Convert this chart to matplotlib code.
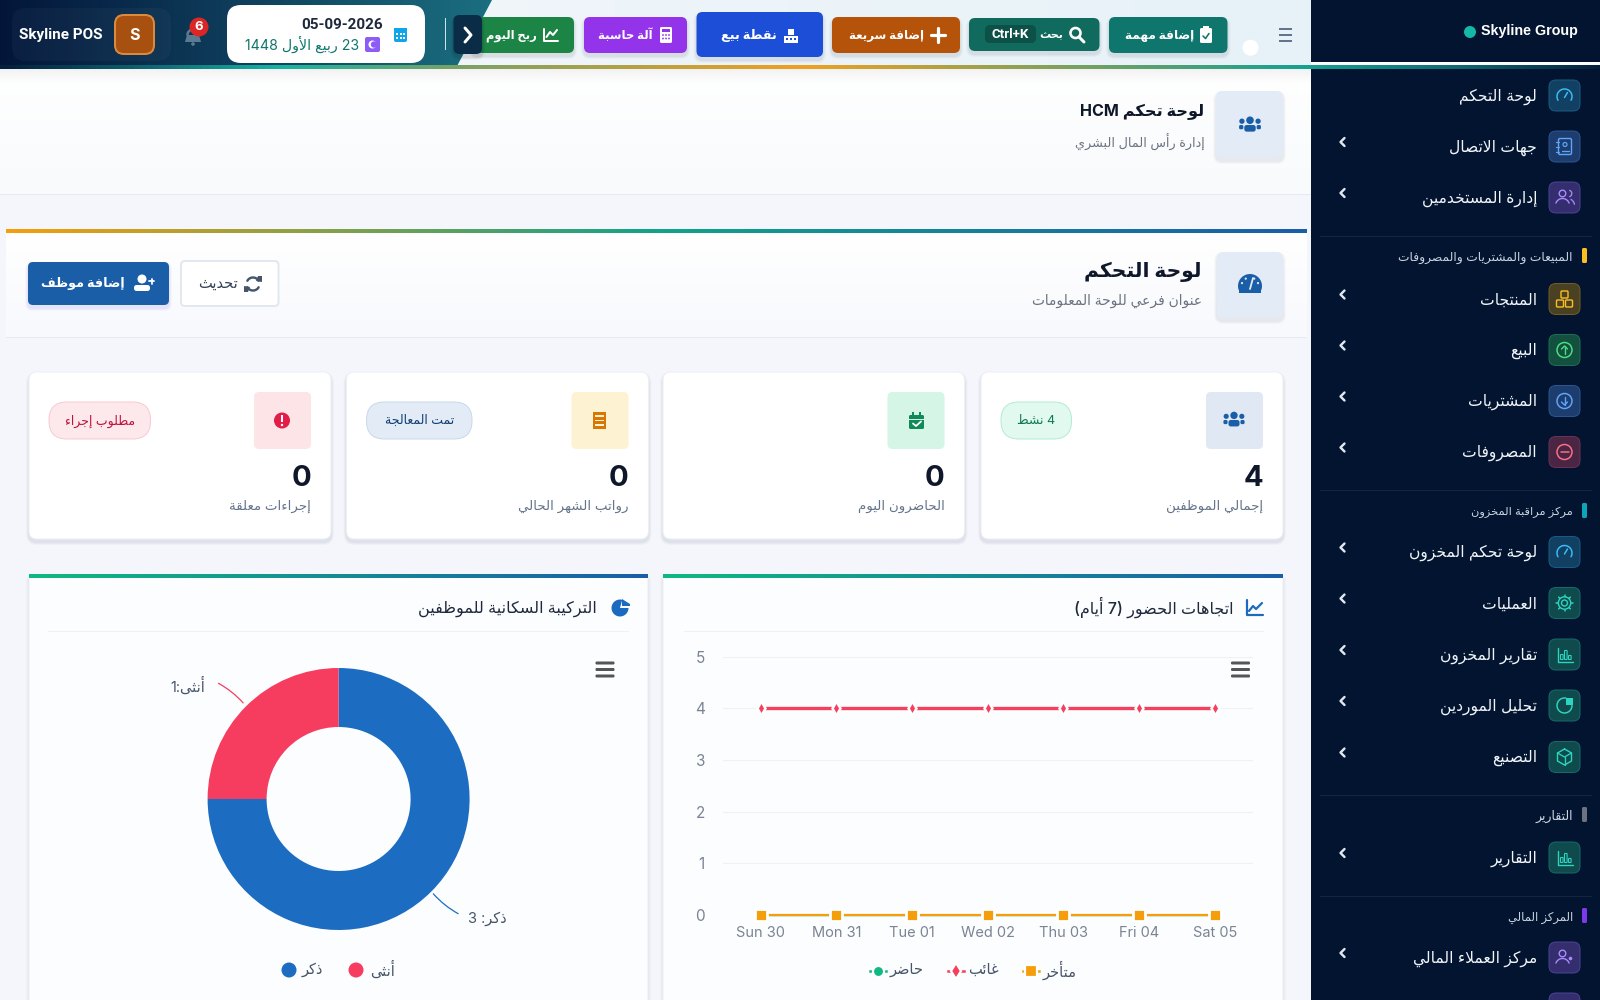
import re
import numpy as np
import matplotlib
matplotlib.use('Agg')
import matplotlib.pyplot as plt
from matplotlib.colors import LinearSegmentedColormap
from matplotlib.patches import Circle, FancyBboxPatch, Polygon, Rectangle

plt.rcParams['font.family'] = ['Inter', 'DejaVu Sans']

# chart data
days = ['Sun 30', 'Mon 31', 'Tue 01', 'Wed 02', 'Thu 03', 'Fri 04', 'Sat 05']
present = [0, 0, 0, 0, 0, 0, 0]
absent = [4, 4, 4, 4, 4, 4, 4]
late = [0, 0, 0, 0, 0, 0, 0]
y_ticks = [0, 1, 2, 3, 4, 5]
gender_values = [3, 1]

# kpi cards, right to left
kpi_values = ['4', '0', '0', '0']
kpi_titles = ['إجمالي الموظفين', 'الحاضرون اليوم', 'رواتب الشهر الحالي', 'إجراءات معلقة']
kpi_badges = ['4 نشط', None, 'تمت المعالجة', 'مطلوب إجراء']

# sidebar rows
side_labels = ['لوحة التحكم', 'جهات الاتصال', 'إدارة المستخدمين', 'المنتجات', 'البيع', 'المشتريات', 'المصروفات',
               'لوحة تحكم المخزون', 'العمليات', 'تقارير المخزون', 'تحليل الموردين', 'التصنيع', 'التقارير',
               'مركز العملاء المالي']
side_sections = ['المبيعات والمشتريات والمصروفات', 'مركز مراقبة المخزون', 'التقارير', 'المركز المالي']

# arabic has to be shaped by hand, matplotlib only lays out left to right
_letters = [('ء', 0xFE80, 1), ('آ', 0xFE81, 2), ('أ', 0xFE83, 2), ('ؤ', 0xFE85, 2), ('إ', 0xFE87, 2), ('ئ', 0xFE89, 4),
            ('ا', 0xFE8D, 2), ('ب', 0xFE8F, 4), ('ة', 0xFE93, 2), ('ت', 0xFE95, 4), ('ث', 0xFE99, 4), ('ج', 0xFE9D, 4),
            ('ح', 0xFEA1, 4), ('خ', 0xFEA5, 4), ('د', 0xFEA9, 2), ('ذ', 0xFEAB, 2), ('ر', 0xFEAD, 2), ('ز', 0xFEAF, 2),
            ('س', 0xFEB1, 4), ('ش', 0xFEB5, 4), ('ص', 0xFEB9, 4), ('ض', 0xFEBD, 4), ('ط', 0xFEC1, 4), ('ظ', 0xFEC5, 4),
            ('ع', 0xFEC9, 4), ('غ', 0xFECD, 4), ('ف', 0xFED1, 4), ('ق', 0xFED5, 4), ('ك', 0xFED9, 4), ('ل', 0xFEDD, 4),
            ('م', 0xFEE1, 4), ('ن', 0xFEE5, 4), ('ه', 0xFEE9, 4), ('و', 0xFEED, 2), ('ى', 0xFEEF, 2), ('ي', 0xFEF1, 4)]
FORMS = {c: (b, n) for c, b, n in _letters}
LAM_ALEF = {'آ': 0xFEF5, 'أ': 0xFEF7, 'إ': 0xFEF9, 'ا': 0xFEFB}
MIRROR = str.maketrans('()', ')(')


def ar(s):
    out = []
    i = 0
    prev = False
    while i < len(s):
        c = s[i]
        nxt = s[i + 1] if i + 1 < len(s) else ''
        if c not in FORMS:
            out.append(c)
            prev = False
        elif c == 'ل' and nxt in LAM_ALEF:
            out.append(chr(LAM_ALEF[nxt] + (1 if prev else 0)))
            prev = False
            i += 1
        else:
            base, n = FORMS[c]
            after = n == 4 and nxt in FORMS and FORMS[nxt][1] > 1
            if n == 1:
                off = 0
            elif prev and after:
                off = 3
            elif after:
                off = 2
            elif prev:
                off = 1
            else:
                off = 0
            out.append(chr(base + off))
            prev = n == 4
        i += 1
    runs = re.split(r'([0-9A-Za-z+\-]+)', ''.join(out))
    runs = [r if k % 2 else r[::-1].translate(MIRROR) for k, r in enumerate(runs)]
    return ''.join(reversed(runs))


fig = plt.figure(figsize=(16, 10), dpi=100)
ax = fig.add_axes([0, 0, 1, 1])
ax.set_xlim(0, 1600)
ax.set_ylim(1000, 0)
ax.set_autoscale_on(False)
ax.axis('off')
fig.patch.set_facecolor('#f4f6fb')


def rbox(x0, y0, x1, y1, r, fc, ec='none', lw=0, z=3, shadow=None):
    if shadow:
        for grow, a in [(3, 0.03), (2, 0.04), (1, 0.05)]:
            ax.add_patch(FancyBboxPatch((x0 - grow, y0 - grow + 3), x1 - x0 + 2 * grow, y1 - y0 + 2 * grow,
                                        boxstyle='round,pad=0,rounding_size=%g' % (r + grow),
                                        fc=shadow, ec='none', alpha=a, zorder=z))
    p = FancyBboxPatch((x0, y0), x1 - x0, y1 - y0, boxstyle='round,pad=0,rounding_size=%g' % r,
                       fc=fc, ec=ec, lw=lw * 0.72, zorder=z)
    ax.add_patch(p)
    return p


def grad(x0, y0, x1, y1, stops, vertical=False, z=1, clip=None):
    cmap = LinearSegmentedColormap.from_list('g', stops)
    arr = np.linspace(0, 1, 256).reshape(-1, 1) if vertical else np.linspace(0, 1, 256).reshape(1, -1)
    im = ax.imshow(arr, extent=(x0, x1, y1, y0), cmap=cmap, vmin=0, vmax=1, aspect='auto', zorder=z,
                   interpolation='bilinear')
    if clip is not None:
        im.set_clip_path(clip)
    return im


def txt(x, y, s, size, c='#0f172a', ha='right', w='normal', z=8, family=None):
    t = ax.text(x, y, s, fontsize=size, color=c, ha=ha, va='center', fontweight=w, zorder=z)
    if family:
        t.set_family(family)
    return t


def line(xs, ys, c, lw=1.5, z=7):
    ax.plot(xs, ys, color=c, lw=lw * 0.72, solid_capstyle='round', solid_joinstyle='round', zorder=z)


def arc(cx, cy, r, a0, a1, c, lw=1.5, z=7):
    t = np.radians(np.linspace(a0, a1, 40))
    line(cx + r * np.cos(t), cy - r * np.sin(t), c, lw, z)


def dot(cx, cy, r, fc, z=7, ec='none', lw=0):
    ax.add_patch(Circle((cx, cy), r, fc=fc, ec=ec, lw=lw * 0.72, zorder=z))


def rect(x0, y0, x1, y1, fc, z=7):
    ax.add_patch(Rectangle((x0, y0), x1 - x0, y1 - y0, fc=fc, ec='none', zorder=z))


def poly(pts, fc, z=7):
    ax.add_patch(Polygon(pts, closed=True, fc=fc, ec='none', zorder=z))


def users_fill(x, y, c, z=7, k=1.0):
    dot(x, y - 5 * k, 4 * k, c, z)
    dot(x - 8.5 * k, y - 4 * k, 2.8 * k, c, z)
    dot(x + 8.5 * k, y - 4 * k, 2.8 * k, c, z)
    rbox(x - 6 * k, y, x + 6 * k, y + 7 * k, 2.5 * k, c, z=z)
    rbox(x - 11.5 * k, y, x - 7 * k, y + 4.5 * k, 1.5 * k, c, z=z)
    rbox(x + 7 * k, y, x + 11.5 * k, y + 4.5 * k, 1.5 * k, c, z=z)


def gauge_fill(x, y, c, bg, z=7):
    t = np.radians(np.linspace(-20, 200, 50))
    poly(np.c_[x + 12 * np.cos(t), y + 2 - 12 * np.sin(t)], c, z)
    rect(x - 11, y + 4, x + 11, y + 9, c, z)
    for a in (160, 120, 60, 20):
        dot(x + 8.5 * np.cos(np.radians(a)), y + 2 - 8.5 * np.sin(np.radians(a)), 1.1, bg, z + 1)
    line([x, x + 3], [y + 5, y - 6], bg, 1.8, z + 1)


def side_icon(kind, x, y, c):
    z = 7
    if kind == 'gauge':
        arc(x, y + 1, 7.5, -30, 210, c, 1.5)
        line([x, x + 3], [y + 2, y - 3], c, 1.5)
    elif kind == 'book':
        rbox(x - 6, y - 8, x + 7, y + 8, 1.5, 'none', c, 1.4, z)
        dot(x + 0.5, y - 2, 2, 'none', z, c, 1.2)
        line([x - 3, x + 4], [y + 4, y + 4], c, 1.3)
        for d in (-5, 0, 5):
            line([x - 8.5, x - 6], [y + d, y + d], c, 1.2)
    elif kind == 'users':
        dot(x - 2, y - 4, 3.3, 'none', z, c, 1.4)
        arc(x - 2, y + 8, 7, 20, 160, c, 1.4)
        arc(x + 4, y - 4, 3.3, -70, 70, c, 1.3)
        arc(x + 3, y + 8, 7, 10, 60, c, 1.3)
    elif kind == 'boxes':
        rbox(x - 3.5, y - 8, x + 3.5, y - 1, 1, 'none', c, 1.4, z)
        rbox(x - 8, y + 1, x - 1, y + 8, 1, 'none', c, 1.4, z)
        rbox(x + 1, y + 1, x + 8, y + 8, 1, 'none', c, 1.4, z)
    elif kind in ('up', 'down', 'minus'):
        dot(x, y, 7.5, 'none', z, c, 1.5)
        if kind == 'minus':
            line([x - 4, x + 4], [y, y], c, 1.5)
        else:
            s = -1 if kind == 'up' else 1
            line([x, x], [y - 4, y + 4], c, 1.4)
            line([x - 3, x, x + 3], [y + s, y + 4 * s, y + s], c, 1.4)
    elif kind == 'gear':
        dot(x, y, 3, 'none', z, c, 1.4)
        dot(x, y, 6.2, 'none', z, c, 1.4)
        for a in np.radians(np.arange(0, 360, 45)):
            line([x + 6.5 * np.cos(a), x + 8.3 * np.cos(a)], [y + 6.5 * np.sin(a), y + 8.3 * np.sin(a)], c, 1.5)
    elif kind == 'bars':
        line([x - 7, x - 7, x + 8], [y - 7, y + 7, y + 7], c, 1.4)
        for dx, h in ((-4, 5), (0, 9), (4, 4)):
            rbox(x + dx, y + 5 - h, x + dx + 2.6, y + 5, 0.5, 'none', c, 1.1, z)
    elif kind == 'pie':
        arc(x, y, 7.5, 80, 360, c, 1.5)
        poly([(x + 1, y - 8), (x + 8, y - 8), (x + 8, y - 1), (x + 1, y - 1)], c, z)
    elif kind == 'cube':
        hexa = [(x, y - 8), (x + 7, y - 4), (x + 7, y + 4), (x, y + 8), (x - 7, y + 4), (x - 7, y - 4), (x, y - 8)]
        line([p[0] for p in hexa], [p[1] for p in hexa], c, 1.4)
        line([x - 7, x, x + 7], [y - 4, y, y - 4], c, 1.3)
        line([x, x], [y, y + 8], c, 1.3)
    elif kind == 'userm':
        dot(x - 2, y - 4, 3.3, 'none', z, c, 1.4)
        arc(x - 2, y + 8, 7, 20, 160, c, 1.4)
        dot(x + 6, y + 1, 1.8, c, z)


# ---- page background
grad(0, 69, 1311, 194, ['#ffffff', '#f8fafc'], vertical=True, z=1)
rect(0, 193.5, 1311, 194.5, '#e6e9ef', 2)
grad(0, 69, 1311, 84, [(0, 0, 0, 0.05), (0, 0, 0, 0)], vertical=True, z=2)

# ---- top bar
grad(0, 0, 1311, 65, ['#f5f7fb', '#e6f2f8'], z=1)
head = Polygon([(0, 0), (492, 0), (456, 68), (0, 68)], closed=True, fc='none', ec='none', transform=ax.transData)
ax.add_patch(head)
grad(0, 0, 492, 68, ['#03163a', '#0f3f5c', '#1a6f80'], z=2, clip=head)
stripe_stops = [(0, '#04203c'), (0.1, '#0f6f78'), (0.17, '#17b3a3'), (0.28, '#76a267'), (0.5, '#f0a020'),
                (0.82, '#14a093'), (0.92, '#0f5a68'), (1, '#04203c')]
grad(0, 65, 1600, 69, stripe_stops, z=4)

rbox(12, 8, 171, 61, 14, '#ffffff08', z=3)
txt(19, 35, 'Skyline POS', 11, 'white', 'left', 'semibold', family=['Roboto', 'DejaVu Sans'])
rbox(115, 15, 154, 54, 9, '#a8500f', '#dc8a3e', 2, 4)
txt(134.5, 35, 'S', 11.5, 'white', 'center', 'bold')
# bell
arc(193, 35, 5.5, 0, 180, '#5a7a92', 2.5, 5)
poly([(187, 35), (199, 35), (201, 42), (185, 42)], '#5a7a92', 5)
dot(193, 44, 1.8, '#5a7a92', 5)
dot(199, 27, 9.5, '#dc2626', 6)
txt(199, 27, '6', 9.5, 'white', 'center', 'bold')
rbox(227, 5, 425, 63, 14, 'white', z=4)
txt(383, 25, '05-09-2026', 11, '#1e293b', 'right', 'bold', family=['Roboto', 'DejaVu Sans'])
txt(359, 44, ar('23 ربيع الأول 1448'), 10.2, '#0f766e', 'right')
rbox(394, 30, 407, 42, 2, '#0ea5e9', z=5)
rect(394, 28, 407, 31, '#0ea5e9', 5)
for gx in (397, 400.5, 404):
    for gy in (34, 38):
        rect(gx - 1, gy - 1, gx + 1, gy + 1, 'white', 6)
rbox(365, 37, 380, 52, 2, '#8b5cf6', z=5)
dot(372.5, 44.5, 4, 'white', 6)
dot(374, 44.5, 3.2, '#8b5cf6', 7)
rect(444.5, 18, 445.5, 50, '#cfe3ea', 5)

# action buttons
btn_x0 = [472, 584, 696.5, 832, 969, 1109]
btn_x1 = [574, 687, 823, 960, 1099.5, 1227.5]
btn_y0 = [17, 17, 12, 17, 18, 17]
btn_y1 = [53, 53, 57, 53, 51, 53]
btn_col = ['#1c8546', '#9333ea', '#1d4ed8', '#b45309', '#106b5e', '#0f766e']
btn_lab = ['ربح اليوم', 'آلة حاسبة', 'نقطة بيع', 'إضافة سريعة', 'بحث', 'إضافة مهمة']
btn_right = [537, 653, 777, 924, 1063, 1194]
btn_size = [8.3, 8.5, 9.2, 8.6, 8, 8.7]
for i in range(6):
    rbox(btn_x0[i], btn_y0[i], btn_x1[i], btn_y1[i], 6, btn_col[i], z=3, shadow='#334155')
    txt(btn_right[i], 35.5, ar(btn_lab[i]), btn_size[i], 'white', 'right', 'bold')
# chart icon
line([544, 544, 558], [29, 41, 41], 'white', 2)
line([546.5, 550, 553, 557], [37, 32, 35, 30], 'white', 2)
# calculator
rbox(660, 27, 672, 43, 1.5, 'white', z=7)
rect(662, 29, 670, 32, btn_col[1], 8)
for gx in (663, 666, 669):
    for gy in (35, 38.5):
        dot(gx, gy, 0.9, btn_col[1], 8)
# register
rect(784, 36, 798, 43, 'white')
rect(788, 29, 794, 35, 'white')
rect(786, 38, 788, 40, btn_col[2], 8)
rect(790, 38, 792, 40, btn_col[2], 8)
rect(794, 38, 796, 40, btn_col[2], 8)
# plus
line([938, 938], [28, 42], 'white', 3.2)
line([931, 945], [35, 35], 'white', 3.2)
# search
dot(1075.5, 33, 5, 'none', 8, 'white', 2.6)
line([1079, 1084], [37, 42], 'white', 3)
rbox(985, 25, 1036, 43, 5, '#0c5047', z=5)
txt(1010.5, 34, 'Ctrl+K', 9.5, 'white', 'center', 'bold', family=['Roboto', 'DejaVu Sans'])
# clipboard
rbox(1200, 28, 1212, 43, 1.5, 'white', z=7)
rect(1203, 26, 1209, 29, 'white')
line([1203, 1205.5, 1209], [36, 38.5, 33.5], btn_col[5], 1.6, 8)

rbox(453.5, 15, 482, 54, 6, '#0b2c46', z=6, shadow='#000000')
line([465, 471, 465], [28, 35, 42], 'white', 3, 8)

dot(1250.5, 47.7, 8, '#ffffff', 4)
for hy in (29, 35, 41):
    rect(1279, hy - 1.3, 1292, hy + 1.3, '#64748b', 4)

# ---- hcm heading
rbox(1216, 91, 1283, 158, 6, '#e3ecf6', z=3, shadow='#64748b')
users_fill(1250, 125, '#1a5ea8', k=0.95)
txt(1204.5, 112, ar('لوحة تحكم HCM'), 11.6, '#0f172a', 'right', 'bold')
txt(1204.5, 142, ar('إدارة رأس المال البشري'), 9.2, '#6b7280')

# ---- page header panel
grad(5.5, 233, 1306, 337, ['#ffffff', '#f8f9fd'], vertical=True, z=1)
rect(5.5, 336.5, 1306, 337.5, '#e6e9ef', 2)
grad(5.5, 229, 1306, 233, ['#f59e0b', '#10a38a', '#1a5ea8'], z=3)
rbox(1217, 252, 1283, 318, 6, '#e3ecf6', z=3, shadow='#64748b')
gauge_fill(1250, 284, '#1a5ea8', '#e3ecf6')
txt(1202, 272, ar('لوحة التحكم'), 14.6, '#0f172a', 'right', 'bold')
txt(1202, 301, ar('عنوان فرعي للوحة المعلومات'), 9.9, '#6b7280')
rbox(181, 261, 278.5, 306, 4, 'white', '#e2e8f0', 2, 3)
txt(238, 284, ar('تحديث'), 10.5, '#334155')
arc(253, 284, 6.5, 30, 150, '#475569', 2.4)
arc(253, 284, 6.5, 210, 330, '#475569', 2.4)
poly([(258, 276), (262, 276), (262, 282), (256, 281)], '#475569')
poly([(248, 292), (244, 292), (244, 286), (250, 287)], '#475569')
rbox(28, 262, 169, 305, 5, '#1a5ea8', z=3, shadow='#4f46e5')
txt(125, 284, ar('إضافة موظف'), 9.2, 'white', 'right', 'bold')
dot(142, 279, 4.5, 'white')
rbox(134, 285, 150, 291, 2.5, 'white', z=7)
line([149, 154], [281, 281], 'white', 1.8)
line([151.5, 151.5], [278.5, 283.5], 'white', 1.8)

# ---- kpi cards
card_x0 = [981, 663, 346.5, 29]
card_x1 = [1283, 964.5, 648.5, 331]
icon_bg = ['#dfe8f3', '#d5f5e6', '#fdf3d3', '#fde4e7']
badge_bg = ['#e2f9ef', None, '#e3ecf6', '#fde9ec']
badge_ec = ['#b3ecd3', None, '#c8d9ec', '#f9c9d2']
badge_fg = ['#0f7a52', None, '#123f73', '#be123c']
badge_w = [70.5, None, 105.5, 101.5]
for i in range(4):
    x0, x1 = card_x0[i], card_x1[i]
    rbox(x0, 372, x1, 539, 8, 'white', '#eceff4', 1, 3, shadow='#475569')
    rbox(x1 - 77, 392, x1 - 20, 449, 5, icon_bg[i], z=4)
    txt(x1 - 20, 478, kpi_values[i], 21, '#0f172a', 'right', 'bold')
    txt(x1 - 20, 506.5, ar(kpi_titles[i]), 9.6, '#64748b')
    if kpi_badges[i]:
        bx = x0 + 20
        rbox(bx, 402, bx + badge_w[i], 439, 18, badge_bg[i], badge_ec[i], 1, 4)
        txt(bx + badge_w[i] / 2, 421, ar(kpi_badges[i]), 9, badge_fg[i], 'center')
users_fill(1234, 420, '#1a5ea8', k=0.92)
# calendar check
rbox(909, 415, 924, 429, 1.5, '#0f8a58', z=7)
rect(912, 412, 914, 416, '#0f8a58')
rect(919, 412, 921, 416, '#0f8a58')
rect(909, 418.5, 924, 419.5, '#d5f5e6', 8)
line([913, 916, 921], [423.5, 426, 421.5], 'white', 1.8, 8)
# receipt
rect(593, 412, 606, 429, '#d97706')
for ry in (416, 420.5, 425):
    rect(595, ry - 0.7, 604, ry + 0.7, '#fdf3d3', 8)
# alert
dot(282, 420.5, 8, '#e11d48')
rect(281, 415, 283, 422, 'white', 8)
dot(282, 425, 1.2, 'white', 8)

# ---- chart panels
for x0, x1 in ((29, 648), (663, 1283)):
    rbox(x0, 576, x1, 1010, 2, '#fcfdfe', '#eceff4', 1, 1, shadow='#64748b')
    grad(x0, 574, x1, 578, ['#10b981', '#1a5ea8'], z=3)
rect(684, 630.5, 1264, 631.5, '#eef1f5', 3)
rect(48, 630.5, 629, 631.5, '#eef1f5', 3)
txt(1233, 607, ar('اتجاهات الحضور (7 أيام)'), 11.5, '#1e293b', 'right', 'medium')
txt(597, 608.5, ar('التركيبة السكانية للموظفين'), 11.5, '#1e293b', 'right', 'medium')
line([1247, 1247, 1263], [600, 615, 615], '#1a6bbf', 2.2)
line([1249, 1253, 1256, 1262], [611, 606, 609, 603], '#1a6bbf', 2.2)
t = np.radians(np.linspace(75, 360, 40))
poly(np.r_[[(620, 608)], np.c_[620 + 8.5 * np.cos(t), 608 - 8.5 * np.sin(t)]], '#1a6bbf')
poly([(622, 599), (630, 604), (630, 606), (622, 606)], '#1a6bbf')
# export menus
for hx in (1240.5, 605):
    for hy in (663, 669.5, 676):
        rbox(hx - 9.5, hy - 1.5, hx + 9.5, hy + 1.5, 1.2, '#555555', z=5)

# line chart axes
lc = fig.add_axes([723 / 1600, 1 - 914.7 / 1000, 529.5 / 1600, 258 / 1000])
lc.patch.set_alpha(0)
x = range(len(days))
lc.plot(x, present, color='#10b981', lw=1, marker='o', ms=5, mfc='#10b981', mec='white', mew=0.5, clip_on=False, zorder=3)
lc.plot(x, absent, color='#f43f5e', lw=2.4, marker='d', ms=7.5, mfc='#f43f5e', mec='white', mew=1.8, clip_on=False, zorder=4)
lc.plot(x, late, color='#f59e0b', lw=1.6, marker='s', ms=8, mfc='#f59e0b', mec='white', mew=2, clip_on=False, zorder=5)
lc.set_xlim(-0.5, 6.5)
lc.set_ylim(0, 5)
lc.set_xticks(list(x), days)
lc.set_yticks(y_ticks)
lc.tick_params(axis='both', length=0, labelcolor='#7b8494', labelsize=10.5)
lc.tick_params(axis='x', pad=8)
lc.tick_params(axis='y', pad=13, labelsize=11)
lc.grid(axis='y', color='#eff1f5', lw=0.8)
lc.set_axisbelow(True)
for sp in lc.spines.values():
    sp.set_visible(False)

# line chart legend
legend_x = [878, 956, 1031]
legend_text = ['حاضر', 'غائب', 'متأخر']
legend_col = ['#10b981', '#f43f5e', '#f59e0b']
legend_mark = ['o', 'd', 's']
legend_right = [924, 999, 1077]
for i in range(3):
    ax.plot([legend_x[i] - 8, legend_x[i] + 8], [971, 971], color=legend_col[i], lw=1.8, zorder=6)
    ax.plot([legend_x[i]], [971], marker=legend_mark[i], ms=8, mfc=legend_col[i], mec='white', mew=1.6, zorder=7)
    txt(legend_right[i], 970, ar(legend_text[i]), 10.5, '#475569')

# donut
pie_ax = fig.add_axes([(338.6 - 131) / 1600, 1 - (799 + 131) / 1000, 262 / 1600, 262 / 1000])
pie_ax.pie(gender_values, colors=['#1c6dc1', '#f63d5f'], startangle=90, counterclock=False, radius=1,
           wedgeprops={'width': 1 - 72 / 131, 'linewidth': 0})
pie_ax.set_xlim(-1, 1)
pie_ax.set_ylim(-1, 1)
pie_ax.patch.set_alpha(0)

ax.annotate('', xy=(245, 705), xytext=(216, 682), zorder=6,
            arrowprops=dict(arrowstyle='-', color='#f63d5f', lw=0.9, connectionstyle='arc3,rad=-0.1'))
ax.annotate('', xy=(431.5, 891.7), xytext=(460.6, 915), zorder=6,
            arrowprops=dict(arrowstyle='-', color='#1c6dc1', lw=0.9, connectionstyle='arc3,rad=-0.1'))
txt(205, 686, ar('أنثى:1'), 10.5, '#475569')
txt(507, 919, ar('ذكر: 3'), 10.5, '#475569')
dot(289, 970, 7.5, '#1c6dc1')
txt(323, 970, ar('ذكر'), 10.5, '#475569')
dot(356, 970, 7.5, '#f63d5f')
txt(395, 970, ar('أنثى'), 10.5, '#475569')

# ---- sidebar
rect(1311, 0, 1600, 62, '#02142f', 5)
rect(1311, 62, 1600, 65, '#ffffff', 5)
grad(1311, 65, 1600, 69, ['#14a093', '#0f6a75', '#04203c'], z=6)
rect(1311, 69, 1600, 1000, '#02142f', 5)
dot(1470, 32, 6, '#14b8a6', 8)
txt(1578, 30.5, 'Skyline Group', 10.3, 'white', 'right', 'bold', family=['Liberation Sans', 'DejaVu Sans'])

side_y = [95.5, 146.5, 197.5, 299, 350, 401, 452, 552, 603, 654.5, 705.5, 757, 857.5, 957.5]
side_kind = ['gauge', 'book', 'users', 'boxes', 'up', 'down', 'minus', 'gauge', 'gear', 'bars', 'pie', 'cube', 'bars', 'userm']
side_bg = ['#114063', '#1c3d6e', '#352e6e', '#4a4022', '#14503f', '#1c3d6e', '#4a2544', '#114063', '#0f4a4c', '#0f4a4c',
           '#0f4a4c', '#0f4a4c', '#0f4a4c', '#352e6e']
side_ec = ['#1a5a85', '#2a5590', '#4a4292', '#6e5e28', '#1d6e55', '#2a5590', '#6a3352', '#1a5a85', '#17696a', '#17696a',
           '#17696a', '#17696a', '#17696a', '#4a4292']
side_fg = ['#38bdf8', '#60a5fa', '#a78bfa', '#fbbf24', '#4ade80', '#60a5fa', '#fb7185', '#38bdf8', '#2dd4bf', '#2dd4bf',
           '#2dd4bf', '#2dd4bf', '#2dd4bf', '#a78bfa']
for i, yy in enumerate(side_y):
    rbox(1549, yy - 15.5, 1580, yy + 15.5, 7, side_bg[i], side_ec[i], 1, 6)
    side_icon(side_kind[i], 1564.5, yy, side_fg[i])
    txt(1537, yy + 1, ar(side_labels[i]), 11.2, '#f1f5f9')
    if i > 0:
        line([1344.5, 1340.5, 1344.5], [yy - 8.5, yy - 4.5, yy - 0.5], '#e2e8f0', 2.4, 8)
# row cut off by the bottom edge
rbox(1549, 993, 1580, 1024, 7, '#352e6e', '#4a4292', 1, 6)

for dy in (236, 490.7, 795, 896):
    rect(1320, dy - 0.5, 1592, dy + 0.5, '#12263f', 6)
section_y = [258, 512.7, 816.7, 918]
section_bar = [248, 503, 807, 908]
section_col = ['#fbbf24', '#0ea5b7', '#6b7280', '#7c3aed']
section_size = [8.8, 8.2, 9, 8.4]
for i in range(4):
    rbox(1582, section_bar[i], 1587, section_bar[i] + 15, 1.5, section_col[i], z=7)
    txt(1573, section_y[i], ar(side_sections[i]), section_size[i], '#cbd5e1')

fig.savefig('out.png', dpi=100, facecolor=fig.get_facecolor())
